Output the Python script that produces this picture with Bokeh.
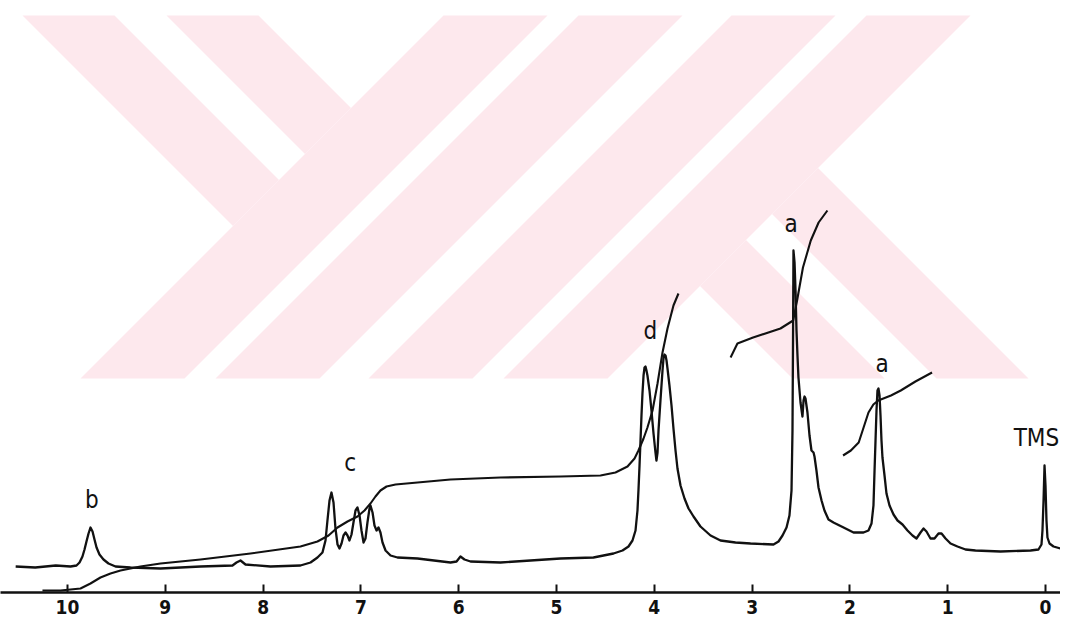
from bokeh.plotting import figure
from bokeh.models import Range1d, FixedTicker, Label
from bokeh.embed import file_html
from bokeh.resources import INLINE

# ---- data (chemical shift in ppm, intensity in a.u.) ----
shift = [10.53, 10.33, 10.12, 9.969, 9.908, 9.877, 9.847, 9.826, 9.806, 9.785, 9.765, 9.744, 9.724,
         9.703, 9.673, 9.632, 9.581, 9.509, 9.356, 9.049, 8.640, 8.313, 8.272, 8.231, 8.180, 7.924,
         7.618, 7.515, 7.444, 7.393, 7.362, 7.342, 7.321, 7.301, 7.280, 7.260, 7.239, 7.219, 7.198,
         7.178, 7.157, 7.137, 7.117, 7.096, 7.076, 7.055, 7.035, 7.014, 6.994, 6.973, 6.953, 6.933,
         6.912, 6.902, 6.881, 6.861, 6.840, 6.820, 6.800, 6.779, 6.748, 6.697, 6.626, 6.421, 6.084,
         6.022, 5.982, 5.941, 5.879, 5.573, 5.266, 4.959, 4.622, 4.417, 4.325, 4.264, 4.223, 4.192,
         4.172, 4.162, 4.151, 4.141, 4.131, 4.121, 4.110, 4.100, 4.090, 4.080, 4.070, 4.049, 4.029,
         4.008, 3.988, 3.978, 3.967, 3.957, 3.937, 3.916, 3.906, 3.896, 3.885, 3.875, 3.865, 3.845,
         3.824, 3.804, 3.783, 3.763, 3.732, 3.691, 3.650, 3.599, 3.528, 3.425, 3.323, 3.170, 3.016,
         2.781, 2.730, 2.689, 2.648, 2.618, 2.597, 2.587, 2.581, 2.577, 2.566, 2.556, 2.546, 2.536,
         2.526, 2.505, 2.485, 2.474, 2.464, 2.454, 2.434, 2.413, 2.393, 2.372, 2.362, 2.342, 2.321,
         2.290, 2.260, 2.219, 2.168, 2.065, 1.963, 1.861, 1.810, 1.779, 1.759, 1.748, 1.738, 1.728,
         1.718, 1.708, 1.697, 1.687, 1.677, 1.667, 1.646, 1.626, 1.595, 1.554, 1.513, 1.462, 1.411,
         1.360, 1.319, 1.278, 1.247, 1.217, 1.176, 1.135, 1.094, 1.063, 1.022, 0.971, 0.900, 0.818,
         0.716, 0.460, 0.153, 0.072, 0.041, 0.031, 0.020, 0.010, 0.000, -0.010, -0.020, -0.041,
         -0.082, -0.153]
intensity = [26, 25, 27, 26, 27, 30, 36, 43, 51, 59, 65, 61, 53,
             45, 38, 33, 29, 26, 25, 24, 26, 27, 30, 32, 28, 26,
             27, 30, 35, 40, 52, 72, 92, 100, 90, 64, 48, 44, 49,
             57, 60, 57, 52, 58, 70, 82, 85, 77, 62, 50, 54, 70,
             84, 87, 80, 67, 62, 65, 60, 50, 42, 37, 35, 34, 30,
             31, 36, 33, 31, 30, 32, 34, 35, 39, 42, 46, 52, 62,
             82, 102, 127, 152, 177, 199, 217, 225, 226, 222, 217, 202, 182,
             159, 140, 132, 140, 162, 192, 222, 234, 238, 237, 232, 224, 207,
             187, 164, 142, 124, 107, 94, 84, 76, 66, 57, 52, 50, 49,
             48, 51, 57, 65, 77, 102, 162, 262, 342, 330, 302, 262, 237,
             215, 190, 176, 192, 196, 194, 180, 157, 142, 140, 136, 122, 105,
             92, 82, 73, 70, 65, 60, 60, 62, 69, 87, 122, 152, 182,
             202, 204, 197, 177, 152, 135, 117, 99, 87, 78, 72, 68, 62,
             57, 54, 60, 64, 61, 54, 54, 59, 59, 54, 49, 46, 43,
             42, 41, 42, 43, 48, 62, 92, 127, 107, 72, 55, 49,
             46, 44]

# integral traces
int1_shift = [10.256, 10.072, 9.969, 9.867, 9.765, 9.663, 9.560, 9.458, 9.254, 9.049, 8.640,
              8.129, 7.618, 7.444, 7.331, 7.239, 7.137, 7.035, 6.963, 6.902, 6.851, 6.800,
              6.738, 6.646, 6.421, 6.084, 5.573, 4.959, 4.550, 4.397, 4.274, 4.202, 4.162,
              4.110, 4.070, 4.018, 3.967, 3.916, 3.865, 3.804, 3.753]
int1_value = [2, 2, 3, 4, 9, 15, 19, 22, 26, 29, 33,
              39, 46, 51, 57, 65, 71, 76, 82, 89, 96, 102,
              106, 108, 110, 113, 115, 116, 117, 120, 126, 134, 142,
              154, 165, 182, 209, 240, 264, 287, 299]
int2_shift = [3.22, 3.15, 2.99, 2.71, 2.58, 2.54, 2.48, 2.40, 2.32, 2.23]
int2_value = [235, 249, 255, 264, 272, 292, 325, 352, 370, 382]
int3_shift = [2.07, 1.99, 1.91, 1.86, 1.81, 1.76, 1.71, 1.58, 1.48, 1.33, 1.16]
int3_value = [137, 142, 150, 165, 180, 188, 192, 197, 202, 211, 220]

# peak assignment labels
peak_labels = ["b", "c", "d", "a", "a", "TMS"]
peak_label_shift = [9.75, 7.11, 4.04, 2.60, 1.67, -0.14]
peak_label_height = [93, 130, 262, 369, 229, 155]
peak_label_align = ["center", "center", "center", "center", "center", "right"]

axis_ticks = [0, 1, 2, 3, 4, 5, 6, 7, 8, 9, 10]

# ---- background watermark of the scanned page (decoration, in picture pixels) ----
wm_left = [
    [(22, 15), (114, 15), (278.5, 179.5), (232.5, 225.5)],
    [(166, 15), (258, 15), (350.5, 107.5), (304.5, 153.5)],
    [(443, 15), (547, 15), (184, 378), (80, 378)],
    [(578, 15), (682, 15), (319, 378), (215, 378)],
]
wm_center_x2, wm_center_y2 = 1050, 393

# ---- figure ----
W, H, BOTTOM = 1060, 622, 30
FRAME_H = H - BOTTOM
PX_PER_PPM, X_ZERO = 97.8, 1045.0

p = figure(width=W, height=H,
           x_range=Range1d(X_ZERO / PX_PER_PPM, (X_ZERO - W) / PX_PER_PPM),
           y_range=Range1d(0, FRAME_H),
           output_backend="svg", toolbar_location=None,
           min_border_left=0, min_border_right=0, min_border_top=0, min_border_bottom=BOTTOM)
p.outline_line_color = None
p.xgrid.visible = False
p.ygrid.visible = False
p.yaxis.visible = False
p.background_fill_color = "white"
p.border_fill_color = "white"


def to_data(pt):
    x, y = pt
    return (X_ZERO - x) / PX_PER_PPM, FRAME_H - y


wm_polys = list(wm_left)
for poly in wm_left:
    wm_polys.append([(wm_center_x2 - x, wm_center_y2 - y) for x, y in poly])
p.patches([[to_data(pt)[0] for pt in poly] for poly in wm_polys],
          [[to_data(pt)[1] for pt in poly] for poly in wm_polys],
          fill_color="#fde8ed", line_color=None)

ink = "#111111"
p.line(shift, intensity, line_color=ink, line_width=2.3, line_join="round")
p.line(int1_shift, int1_value, line_color=ink, line_width=2.1, line_join="round")
p.line(int2_shift, int2_value, line_color=ink, line_width=2.1, line_join="round")
p.line(int3_shift, int3_value, line_color=ink, line_width=2.1, line_join="round")

for t, xs, ys, al in zip(peak_labels, peak_label_shift, peak_label_height, peak_label_align):
    p.add_layout(Label(x=xs, y=ys, text=t, text_align=al, text_baseline="middle",
                       text_font="DejaVu Sans Condensed", text_font_size="24px",
                       text_color=ink))

ax = p.xaxis[0]
ax.ticker = FixedTicker(ticks=axis_ticks)
ax.axis_line_color = ink
ax.axis_line_width = 2.5
ax.major_tick_in = 8
ax.major_tick_out = 0
ax.major_tick_line_width = 2
ax.major_tick_line_color = ink
ax.minor_tick_line_color = None
ax.major_label_standoff = 7
ax.major_label_text_font = "DejaVu Sans Condensed"
ax.major_label_text_font_style = "bold"
ax.major_label_text_font_size = "19px"
ax.major_label_text_color = ink

open("out.html", "w").write(file_html(p, INLINE))
